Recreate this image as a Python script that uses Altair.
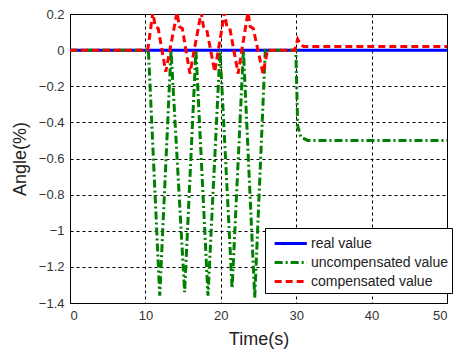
import altair as alt
import pandas as pd

# real value
real_t = [0, 50]
real_y = [0, 0]

# uncompensated value
unc_t = [0, 10.4, 11.9, 13.4, 15.2, 16.7, 18.3, 19.9, 21.5, 23.0, 24.5, 25.9, 29.95, 30.2, 30.6, 31.5, 50]
unc_y = [0, 0, -1.36, 0, -1.34, 0, -1.36, 0, -1.32, 0, -1.37, 0, 0, -0.42, -0.48, -0.5, -0.5]

# compensated value
com_t = [0, 10.3, 11.0, 11.3, 11.7, 12.7, 14.2, 14.5, 14.9, 15.9, 17.4, 17.7, 18.1, 19.2,
         20.5, 20.8, 21.2, 22.3, 23.6, 23.9, 24.3, 25.6, 26.2, 29.8, 30.2, 30.6, 31.0, 50]
com_y = [0, 0, 0.21, 0.13, 0.12, -0.12, 0.21, 0.13, 0.12, -0.13, 0.21, 0.13, 0.12, -0.12,
         0.21, 0.13, 0.12, -0.13, 0.21, 0.13, 0.12, -0.13, 0, 0, 0.06, 0.03, 0.02, 0.02]

series = ["real value", "uncompensated value", "compensated value"]
colors = ["#0000FF", "#008000", "#FF0000"]
dashes = [[1, 0], [8, 3, 2, 3], [7, 4]]

frames = []
for name, t, y, order in [(series[0], real_t, real_y, 0),
                          (series[1], unc_t, unc_y, 1),
                          (series[2], com_t, com_y, 2)]:
    frames.append(pd.DataFrame({"t": t, "y": y, "series": name, "ord": order}))
df = pd.concat(frames, ignore_index=True)

font = "Liberation Sans"

chart = alt.Chart(df).mark_line(strokeWidth=3, clip=True).encode(
    x=alt.X("t:Q", scale=alt.Scale(domain=[0, 50], nice=False),
            axis=alt.Axis(values=[0, 10, 20, 30, 40, 50], title="Time(s)", format="d")),
    y=alt.Y("y:Q", scale=alt.Scale(domain=[-1.4, 0.2], nice=False),
            axis=alt.Axis(values=[0.2, 0, -0.2, -0.4, -0.6, -0.8, -1, -1.2, -1.4],
                          title="Angle(%)", format="~g")),
    color=alt.Color("series:N", scale=alt.Scale(domain=series, range=colors),
                    legend=alt.Legend(title=None, orient="none", legendX=195, legendY=214,
                                      symbolType="M-0.6,0H2.7", symbolSize=380,
                                      symbolStrokeWidth=3, labelFontSize=14, labelFont=font,
                                      labelColor="#222", strokeColor="black", fillColor="white",
                                      padding=4, rowPadding=0, labelOffset=19, labelLimit=300)),
    strokeDash=alt.StrokeDash("series:N", scale=alt.Scale(domain=series, range=dashes)),
    order=alt.Order("ord:Q"),
    detail="series:N",
).properties(
    width=377, height=289,
    padding={"left": 62, "top": 6, "right": 20, "bottom": 50},
    autosize=alt.AutoSizeParams(type="none"),
).configure_view(
    stroke="black", strokeWidth=1
).configure_axis(
    grid=True, gridColor="black", gridDash=[3, 3], gridOpacity=1, gridWidth=1,
    domain=False, ticks=False, labelFont=font, labelFontSize=13, labelColor="#333",
    titleFont=font, titleFontSize=18, titleFontWeight="normal", titleColor="#222",
    labelPadding=6,
).configure_axisY(
    titlePadding=9
).configure_axisX(
    titlePadding=8
)

chart.save("out.html", embed_options={"renderer": "svg", "actions": False})
